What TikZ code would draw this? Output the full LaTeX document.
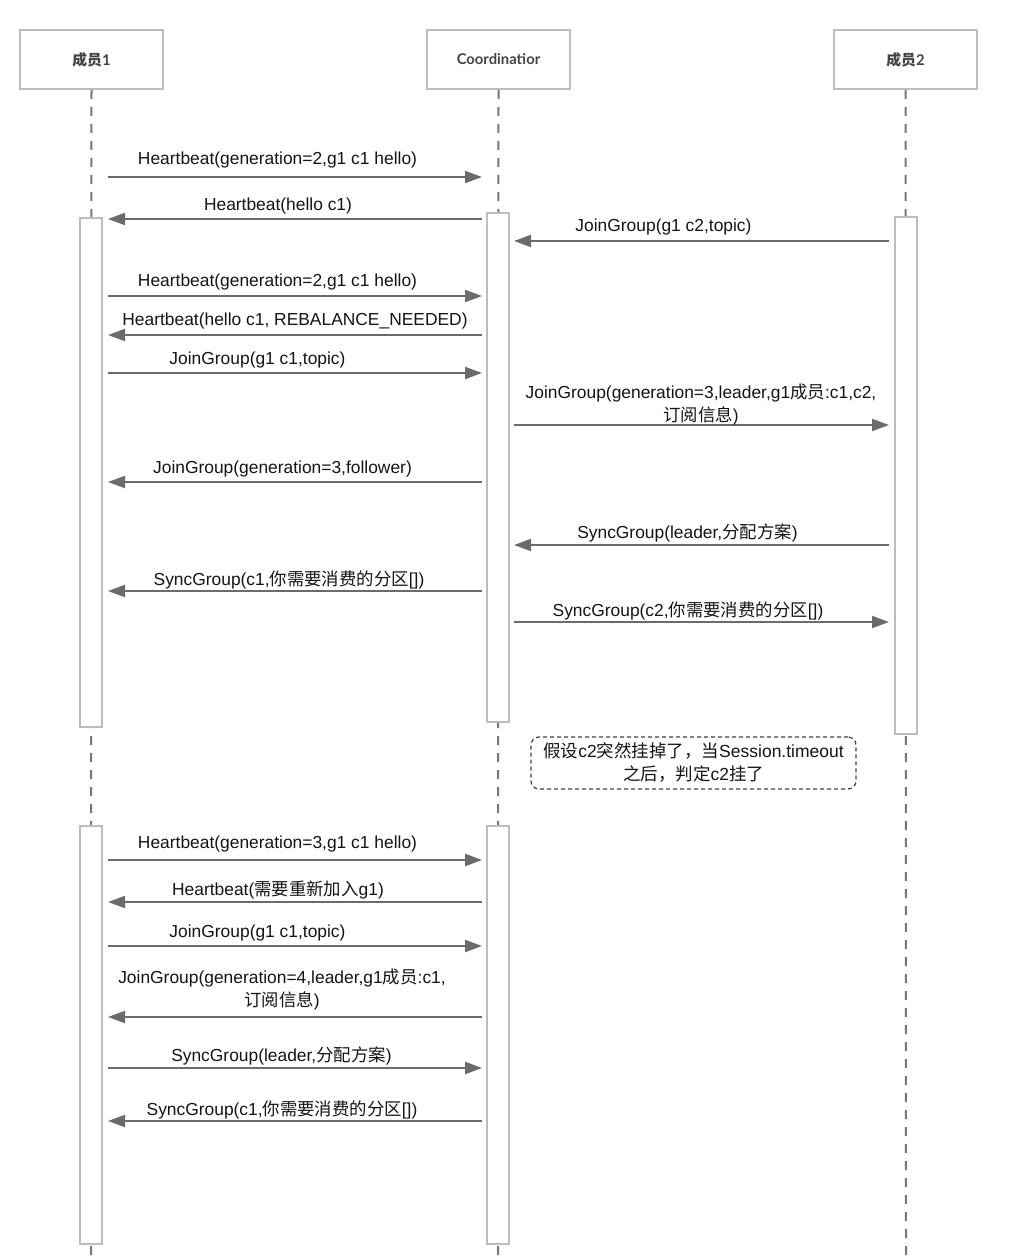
\documentclass[tikz,border=0pt]{standalone}
\usepackage{fontspec}
\setmainfont{Liberation Sans}
\newfontfamily\cjk{Noto Sans CJK SC}
\newfontfamily\lato{Lato}
\usetikzlibrary{arrows.meta,calc}
\definecolor{boxgray}{HTML}{BDBDBD}
\definecolor{linegray}{HTML}{6B6B6B}
\definecolor{lifegray}{HTML}{777777}
\definecolor{txt}{HTML}{141414}
\definecolor{hdrtxt}{HTML}{444444}
\tikzset{
  hdr/.style={draw=boxgray, line width=2pt, fill=white, minimum width=143pt, minimum height=59pt, inner sep=0pt, text=hdrtxt, font=\lato\bfseries\fontsize{14.8}{17}\selectfont},
  act/.style={draw=boxgray, line width=2pt, fill=white, minimum width=22pt, inner sep=0pt},
  life/.style={draw=lifegray, line width=2pt, dash pattern=on 9pt off 8pt},
  msg/.style={draw=linegray, line width=2pt, -{Triangle[length=17pt,width=12pt]}},
  lbl/.style={inner sep=0pt, text=txt, yshift=-1.5pt, font=\fontsize{17.4}{23}\selectfont, align=center},
  note/.style={draw=black!75, line width=1.2pt, dash pattern=on 4pt off 3pt, rounded corners=8pt, minimum width=325pt, minimum height=52pt, inner sep=0pt, text=txt, font=\fontsize{17.5}{23}\selectfont, align=center}
}
\begin{document}
\begin{tikzpicture}[x=1pt,y=-1pt]
\useasboundingbox (0,0) rectangle (1014,1260);
% headers
\node[hdr] (h1) at (91.5,59.5) {{\cjk\bfseries 成员}1};
\node[hdr] (h2) at (498.5,59.5) {Coordinatior};
\node[hdr] (h3) at (905.5,59.5) {{\cjk\bfseries 成员}2};
% lifeline ends
\coordinate (e1) at (91,1262);
\coordinate (e2) at (498,1262);
\coordinate (e3) at (906,1262);
\draw[life] (h1.south) -- (e1);
\draw[life] (h2.south) -- (e2);
\draw[life] (h3.south) -- (e3);
% activation boxes
\node[act, minimum height=509pt] (a1) at (91,472.5) {};
\node[act, minimum height=509pt] (a2) at (498,467.5) {};
\node[act, minimum height=517pt] (a3) at (906,475.5) {};
\node[act, minimum height=418pt] (b1) at (91,1035) {};
\node[act, minimum height=418pt] (b2) at (498,1035) {};
% lanes
\coordinate (P1) at (108,0);
\coordinate (P2L) at (482,0);
\coordinate (P2R) at (514,0);
\coordinate (P3) at (889,0);
% messages
\draw[msg] (P1 |- 0,177) -- (P2L |- 0,177);
\node[lbl] (l1) at (277.5,159) {Heartbeat(generation=2,g1 c1 hello)};
\draw[msg] (P2L |- 0,219) -- (P1 |- 0,219);
\node[lbl] (l2) at (278,204) {Heartbeat(hello c1)};
\draw[msg] (P3 |- 0,241) -- (P2R |- 0,241);
\node[lbl] (l3) at (663.5,226) {JoinGroup(g1 c2,topic)};
\draw[msg] (P1 |- 0,296) -- (P2L |- 0,296);
\node[lbl] (l4) at (277.5,281) {Heartbeat(generation=2,g1 c1 hello)};
\draw[msg] (P2L |- 0,335) -- (P1 |- 0,335);
\node[lbl] (l5) at (295,319) {Heartbeat(hello c1, REBALANCE\_NEEDED)};
\draw[msg] (P1 |- 0,373) -- (P2L |- 0,373);
\node[lbl] (l6) at (257.5,358) {JoinGroup(g1 c1,topic)};
\draw[msg] (P2R |- 0,425) -- (P3 |- 0,425);
\node[lbl] (l7) at (701,402.5) {JoinGroup(generation=3,leader,g1{\cjk 成员}:c1,c2,\\{\cjk 订阅信息})};
\draw[msg] (P2L |- 0,482) -- (P1 |- 0,482);
\node[lbl] (l8) at (282.5,467) {JoinGroup(generation=3,follower)};
\draw[msg] (P3 |- 0,545) -- (P2R |- 0,545);
\node[lbl] (l9) at (687.5,531) {SyncGroup(leader,{\cjk 分配方案})};
\draw[msg] (P2L |- 0,591) -- (P1 |- 0,591);
\node[lbl] (l10) at (289,578) {SyncGroup(c1,{\cjk 你需要消费的分区}[])};
\draw[msg] (P2R |- 0,622) -- (P3 |- 0,622);
\node[lbl] (l11) at (688,609) {SyncGroup(c2,{\cjk 你需要消费的分区}[])};
% note
\node[note] (n1) at (693.5,763) {{\cjk 假设}c2{\cjk 突然挂掉了，当}Session.timeout\\{\cjk 之后，判定}c2{\cjk 挂了}};
% second phase
\draw[msg] (P1 |- 0,860) -- (P2L |- 0,860);
\node[lbl] (l12) at (277.5,842) {Heartbeat(generation=3,g1 c1 hello)};
\draw[msg] (P2L |- 0,902) -- (P1 |- 0,902);
\node[lbl] (l13) at (278,888) {Heartbeat({\cjk 需要重新加入}g1)};
\draw[msg] (P1 |- 0,946) -- (P2L |- 0,946);
\node[lbl] (l14) at (257.5,931) {JoinGroup(g1 c1,topic)};
\draw[msg] (P2L |- 0,1017) -- (P1 |- 0,1017);
\node[lbl] (l15) at (282,987.5) {JoinGroup(generation=4,leader,g1{\cjk 成员}:c1,\\{\cjk 订阅信息})};
\draw[msg] (P1 |- 0,1068) -- (P2L |- 0,1068);
\node[lbl] (l16) at (281.5,1054) {SyncGroup(leader,{\cjk 分配方案})};
\draw[msg] (P2L |- 0,1121) -- (P1 |- 0,1121);
\node[lbl] (l17) at (282,1108) {SyncGroup(c1,{\cjk 你需要消费的分区}[])};
\end{tikzpicture}
\end{document}
